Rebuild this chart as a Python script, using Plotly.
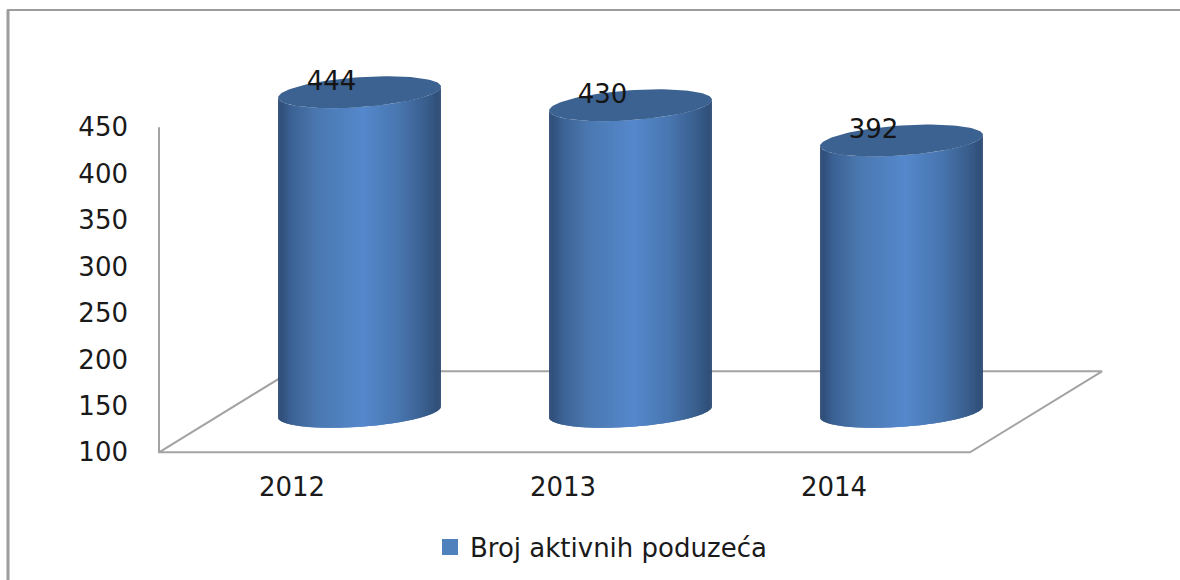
import numpy as np
import plotly.graph_objects as go

# ---- data ----
categories = ["2012", "2013", "2014"]
values = [444, 430, 392]
y_ticks = [100, 150, 200, 250, 300, 350, 400, 450]
series_name = "Broj aktivnih poduzeća"

# ---- projection settings ----
W, H = 1180, 580
PX_PER_CAT = 271.0
X0_PX = 292.0          # pixel of first category tick
PX_PER_UNIT = 0.929
Y100_PX = 452.3        # pixel of value 100 on the front plane
BASE = 100
DEPTH_PX_X, DEPTH_PX_Y = 132.0, 81.0
A_PX, B_PX, K_PX = 81.5, 15.0, 5.5   # ellipse semi-axes and tilt
BAR_SHIFT_PX = 1.5
DX = DEPTH_PX_X / PX_PER_CAT
DY = DEPTH_PX_Y / PX_PER_UNIT
LEFT = (159 - X0_PX) / PX_PER_CAT
RIGHT = (970 - X0_PX) / PX_PER_CAT
AXIS_TOP = y_ticks[-1]
GREY = "#a3a3a3"
TOP_FACE = "#3c6291"
FONT = "DejaVu Sans"
FONT_SIZE = 26
STOPS = [(0.0, (44, 74, 114)), (0.08, (60, 98, 148)), (0.24, (74, 120, 176)),
         (0.52, (85, 136, 204)), (0.74, (72, 118, 176)), (0.92, (56, 92, 138)),
         (1.0, (46, 76, 116))]
N_STRIPS = 110


def colour(f):
    xs = [s[0] for s in STOPS]
    rgb = [np.interp(f, xs, [s[1][c] for s in STOPS]) for c in range(3)]
    return "rgb(%d,%d,%d)" % tuple(round(v) for v in rgb)


def ellipse(center_x, center_val, t):
    x = center_x + A_PX / PX_PER_CAT * np.cos(t)
    y = center_val - (B_PX * np.sin(t) - K_PX * np.cos(t)) / PX_PER_UNIT
    return x, y


fig = go.Figure()


def poly(x, y, fill):
    fig.add_trace(go.Scatter(x=list(x) + [x[0]], y=list(y) + [y[0]], mode="lines",
                             fill="toself", fillcolor=fill,
                             line=dict(color=fill, width=0), hoverinfo="skip",
                             showlegend=False))


def line(x, y):
    fig.add_trace(go.Scatter(x=x, y=y, mode="lines", line=dict(color=GREY, width=2),
                             hoverinfo="skip", showlegend=False))


# floor and wall
line([LEFT, LEFT, RIGHT, RIGHT + DX, LEFT + DX, LEFT],
     [AXIS_TOP, BASE, BASE, BASE + DY, BASE + DY, BASE])

# cylinders stand at mid depth, so their values are shifted back by half the depth
for i, v in enumerate(values):
    cx = i + DX / 2 + BAR_SHIFT_PX / PX_PER_CAT
    base = BASE + DY / 2
    top = v + DY / 2
    edges = np.linspace(np.pi, 0, N_STRIPS + 1)
    for k in range(N_STRIPS):
        t = np.linspace(edges[k], edges[min(k + 2, N_STRIPS)], 6)
        xb, yb = ellipse(cx, base, t)
        xt, yt = ellipse(cx, top, t)
        f = (np.cos(edges[k]) + np.cos(edges[k + 1])) / 4 + 0.5
        poly(np.concatenate([xb, xt[::-1]]), np.concatenate([yb, yt[::-1]]), colour(f))
    t = np.linspace(0, 2 * np.pi, 121)
    xt, yt = ellipse(cx, top, t)
    poly(xt, yt, TOP_FACE)

# data labels
fig.add_trace(go.Scatter(
    x=[i + DX / 2 - 26.5 / PX_PER_CAT for i in range(len(values))],
    y=[v + DY / 2 + 9.5 for v in values],
    mode="text", text=[str(v) for v in values],
    textfont=dict(family=FONT, size=FONT_SIZE, color="#151515"),
    hoverinfo="skip", showlegend=False))

# legend entry
fig.add_trace(go.Scatter(x=[None], y=[None], name=series_name, mode="markers",
                         marker=dict(color="#4f81bd", symbol="square", size=16),
                         hoverinfo="skip"))

fig.update_layout(
    width=W, height=H, margin=dict(l=0, r=0, t=0, b=0, pad=0),
    paper_bgcolor="white", plot_bgcolor="white",
    font=dict(family=FONT, color="#1a1a1a"),
    xaxis=dict(range=[(0 - X0_PX) / PX_PER_CAT, (W - X0_PX) / PX_PER_CAT],
               tickvals=list(range(len(categories))), ticktext=categories,
               showgrid=False, zeroline=False, showline=False, ticks="",
               tickfont=dict(family=FONT, size=FONT_SIZE), anchor="free",
               position=1 - 469 / H, fixedrange=True),
    yaxis=dict(range=[BASE - (H - Y100_PX) / PX_PER_UNIT, BASE + Y100_PX / PX_PER_UNIT],
               tickvals=y_ticks, showgrid=False, zeroline=False, showline=False, ticks="",
               tickfont=dict(family=FONT, size=FONT_SIZE), anchor="free",
               position=128 / W, fixedrange=True),
    showlegend=True,
    legend=dict(x=430 / W, y=1 - 547 / H, xanchor="left", yanchor="middle",
                orientation="h", itemsizing="trace",
                font=dict(family=FONT, size=FONT_SIZE, color="#1a1a1a"),
                bgcolor="rgba(0,0,0,0)"),
    shapes=[
        dict(type="line", xref="paper", yref="paper", x0=8 / W, x1=8 / W, y0=0, y1=1 - 10 / H,
             line=dict(color="#9c9c9c", width=3)),
        dict(type="line", xref="paper", yref="paper", x0=7 / W, x1=1, y0=1 - 10 / H, y1=1 - 10 / H,
             line=dict(color="#9c9c9c", width=2)),
    ],
)

fig.write_html("out.html", config=dict(displayModeBar=False),
               post_script="document.body.style.margin='0';")
